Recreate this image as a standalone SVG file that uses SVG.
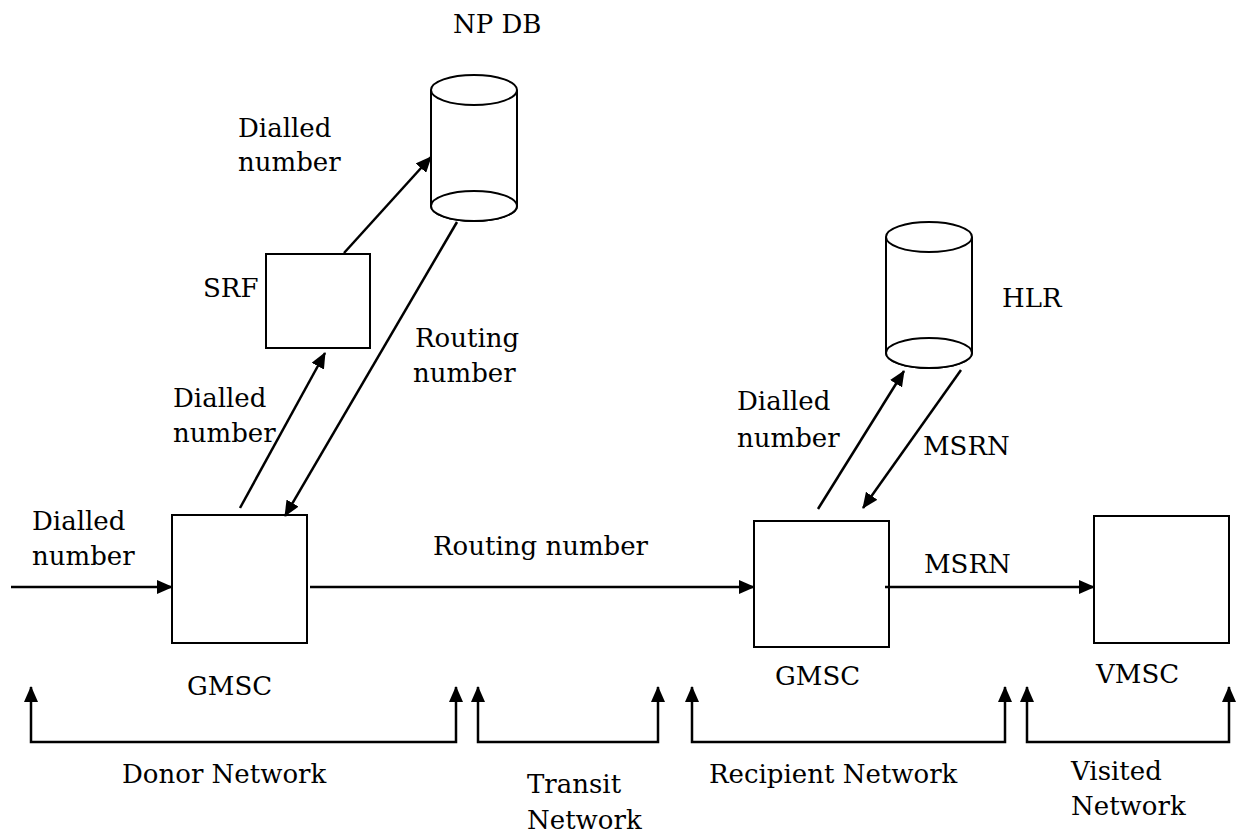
<svg xmlns="http://www.w3.org/2000/svg" width="1239" height="835" viewBox="0 0 1239 835">
<style>
text{font-family:'DejaVu Serif','Liberation Serif',serif;font-size:26px;fill:#000}
.box{fill:#fff;stroke:#000;stroke-width:2}
.cyl{fill:#fff;stroke:#000;stroke-width:2}
.con{fill:none;stroke:#000;stroke-width:2.5}
.arr{marker-end:url(#ah)}
.brk{marker-start:url(#ah);marker-end:url(#ah)}
</style>
<defs>
<marker id="ah" viewBox="0 0 16 14" refX="15" refY="7" markerWidth="16" markerHeight="14" markerUnits="userSpaceOnUse" orient="auto-start-reverse">
<path d="M0,0 L16,7 L0,14 z" fill="#000"/>
</marker>
</defs>
<g id="npdb">
<path class="cyl" d="M431,90 V206 A43,15 0 0 0 517,206 V90"/>
<ellipse class="cyl" cx="474" cy="90" rx="43" ry="15"/>
<ellipse class="cyl" cx="474" cy="206" rx="43" ry="15"/>
<text x="453" y="33">NP DB</text>
</g>
<g id="hlr">
<path class="cyl" d="M886,237 V353 A43,15 0 0 0 972,353 V237"/>
<ellipse class="cyl" cx="929" cy="237" rx="43" ry="15"/>
<ellipse class="cyl" cx="929" cy="353" rx="43" ry="15"/>
<text x="1002" y="307">HLR</text>
</g>
<g id="srf">
<rect class="box" x="266" y="254" width="104" height="94"/>
<text x="203" y="297">SRF</text>
</g>
<g id="gmsc1">
<rect class="box" x="172" y="515" width="135" height="128"/>
<text x="187" y="695">GMSC</text>
</g>
<g id="gmsc2">
<rect class="box" x="754" y="521" width="135" height="126"/>
<text x="775" y="685">GMSC</text>
</g>
<g id="vmsc">
<rect class="box" x="1094" y="516" width="135" height="127"/>
<text x="1096" y="683">VMSC</text>
</g>
<g id="connectors">
<path class="con arr" d="M11,587 H172"/>
<path class="con arr" d="M310,587 H754"/>
<path class="con arr" d="M885,587 H1094"/>
<path class="con arr" d="M344,253 L431,157"/>
<path class="con arr" d="M457,222 L285,516"/>
<path class="con arr" d="M240,508 L325,353"/>
<path class="con arr" d="M818,509 L904,371"/>
<path class="con arr" d="M961,370 L863,508"/>
<path class="con brk" d="M31,687 V742 H456 V687"/>
<path class="con brk" d="M478,687 V742 H658 V687"/>
<path class="con brk" d="M692,687 V742 H1005 V687"/>
<path class="con brk" d="M1027,687 V742 H1229 V687"/>
</g>
<g id="labels">
<text x="238" y="137">Dialled</text>
<text x="238" y="171">number</text>
<text x="32" y="530">Dialled</text>
<text x="32" y="565">number</text>
<text x="173" y="407">Dialled</text>
<text x="173" y="442">number</text>
<text x="415" y="347">Routing</text>
<text x="413" y="382">number</text>
<text x="433" y="555">Routing number</text>
<text x="737" y="410">Dialled</text>
<text x="737" y="447">number</text>
<text x="923" y="455">MSRN</text>
<text x="924" y="573">MSRN</text>
<text x="122" y="783">Donor Network</text>
<text x="527" y="793">Transit</text>
<text x="527" y="829">Network</text>
<text x="709" y="783">Recipient Network</text>
<text x="1071" y="780">Visited</text>
<text x="1071" y="815">Network</text>
</g>
</svg>
